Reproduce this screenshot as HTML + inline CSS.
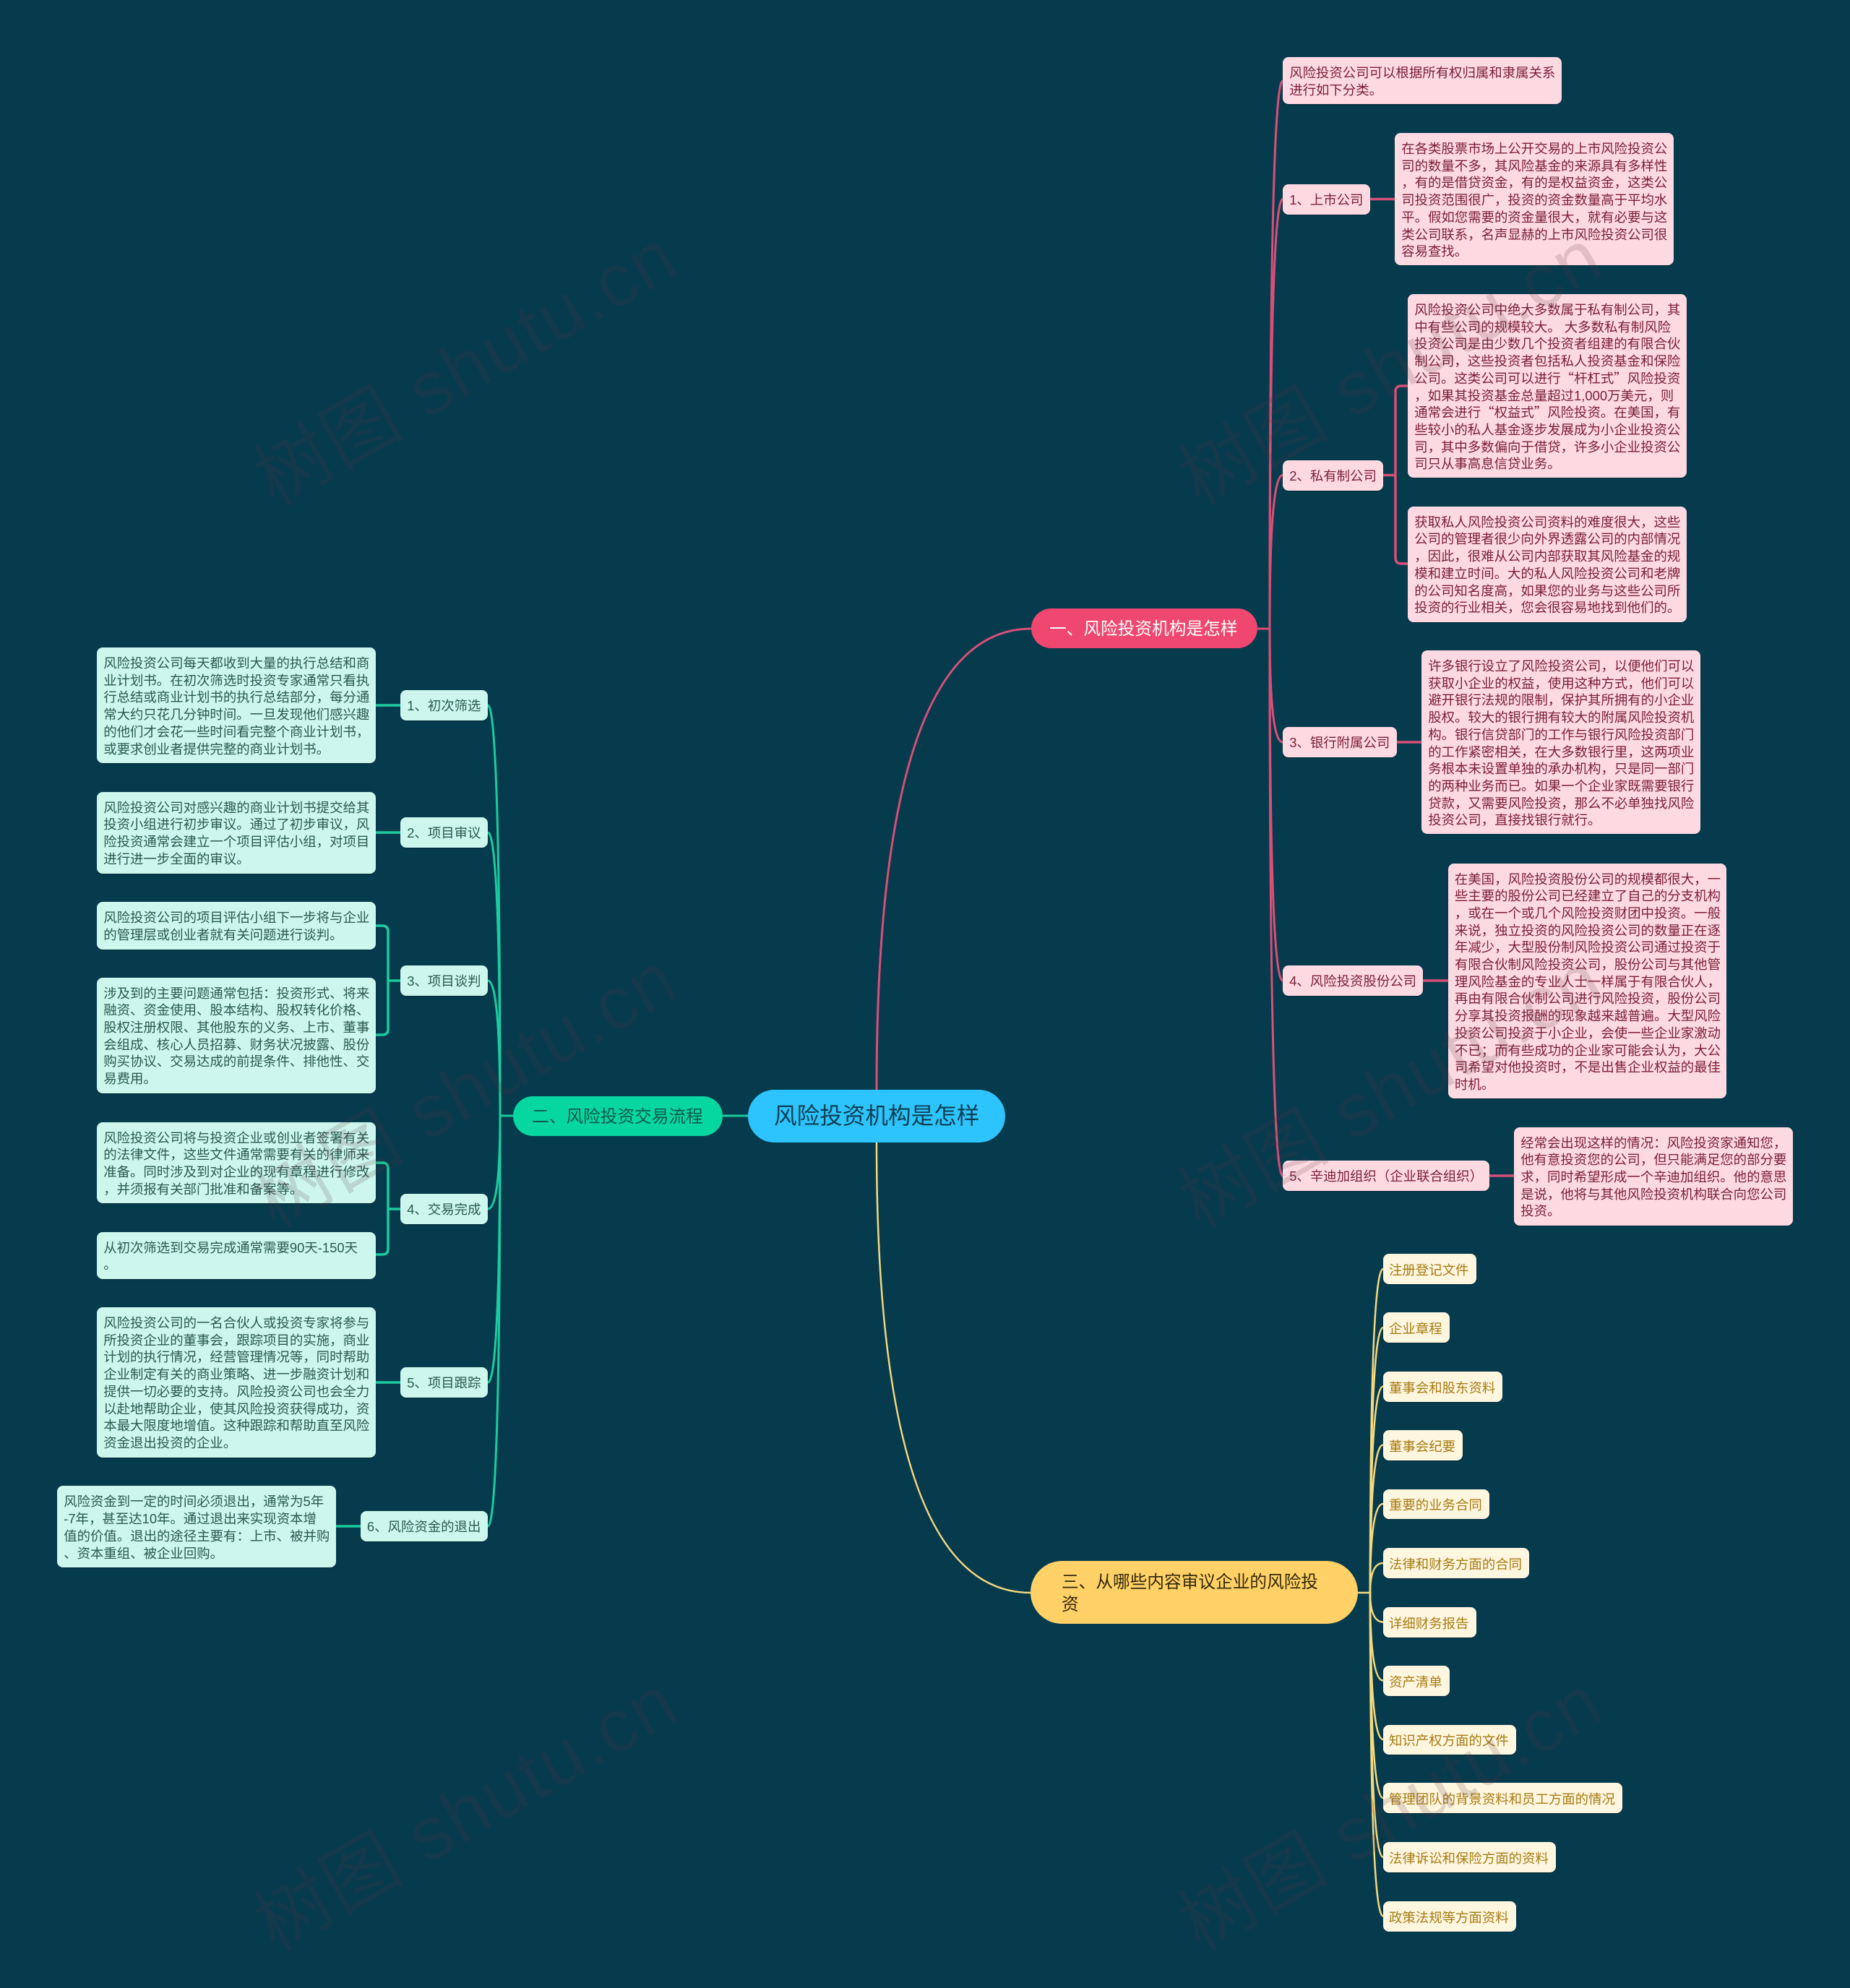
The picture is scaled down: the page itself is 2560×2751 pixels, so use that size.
<!DOCTYPE html>
<html lang="zh-CN"><head><meta charset="utf-8"><title>风险投资机构是怎样</title>
<style>
html,body{margin:0;padding:0;background:#063a4d;}
body{position:relative;width:2560px;height:2751px;overflow:hidden;font-family:"Liberation Sans","Noto Sans CJK SC",sans-serif;}
svg{position:absolute;left:0;top:0;}
.n{position:absolute;box-sizing:border-box;white-space:nowrap;font-size:18.42px;line-height:23.7px;border-radius:8px;box-shadow:0 1px 1px rgba(0,0,0,.3);}
.p{background:#fddae2;color:#7a1d3a;padding:10px 0 0 9.2px;}
.g{background:#cdf7ec;color:#2a5a50;padding:10px 0 0 9.2px;}
.y{background:#fff6e0;color:#a67c12;padding:10.5px 0 0 8px;height:41.5px;top:0;left:1914px;}
.m{position:absolute;box-sizing:border-box;white-space:nowrap;}
.ql,.qr{display:inline-block;width:1em;font-family:"Noto Sans CJK SC",sans-serif;}
.ql{text-align:right;}.qr{text-align:left;}
</style></head><body>
<svg width="2560" height="2751" viewBox="0 0 2560 2751" fill="none" stroke-linecap="round">
<g stroke="#d94f78" stroke-width="3">
<path d="M1213,1508 Q1213,870 1427,870"/>
<path d="M1740,870 H1757"/>
<path d="M1757,870 Q1757,112 1775,112"/>
<path d="M1757,870 Q1757,275.500 1775,275.500"/>
<path d="M1757,870 Q1757,657.500 1775,657.500"/>
<path d="M1757,870 Q1757,1027 1775,1027"/>
<path d="M1757,870 Q1757,1357 1775,1357"/>
<path d="M1757,870 Q1757,1627 1775,1627"/>
<path d="M1896,275.500 H1930" stroke-width="3.500"/>
<path d="M1914,657.500 H1931 M1948,534 H1939 Q1931,534 1931,542 V772 Q1931,780 1939,780 H1948" stroke-width="3.500"/>
<path d="M1933,1027 H1967" stroke-width="3.500"/>
<path d="M1969,1357 H2004" stroke-width="3.500"/>
<path d="M2061,1627 H2095" stroke-width="3.500"/>
</g>
<g stroke="#1ccb9f" stroke-width="3">
<path d="M1035,1544 H1000"/>
<path d="M709.500,1544 H692"/>
<path d="M692,1544 Q692,976 675,976"/>
<path d="M692,1544 Q692,1152 675,1152"/>
<path d="M692,1544 Q692,1357 675,1357"/>
<path d="M692,1544 Q692,1673 675,1673"/>
<path d="M692,1544 Q692,1913 675,1913"/>
<path d="M692,1544 Q692,2112 675,2112"/>
<path d="M520,976 H554" stroke-width="3.500"/>
<path d="M520,1152 H554" stroke-width="3.500"/>
<path d="M554,1357 H537 M520,1281 H529 Q537,1281 537,1289 V1424 Q537,1432 529,1432 H520" stroke-width="3.500"/>
<path d="M554,1673 H537 M520,1609 H529 Q537,1609 537,1617 V1728 Q537,1736 529,1736 H520" stroke-width="3.500"/>
<path d="M520,1913 H554" stroke-width="3.500"/>
<path d="M464.500,2112 H499" stroke-width="3.500"/>
</g>
<g stroke="#f5d97f" stroke-width="2.500">
<path d="M1213,1581 Q1213,2204 1426,2204"/>
<path d="M1879,2204 H1896"/>
<path d="M1896,2204 Q1896,1756 1914,1756"/>
<path d="M1896,2204 Q1896,1837 1914,1837"/>
<path d="M1896,2204 Q1896,1918.500 1914,1918.500"/>
<path d="M1896,2204 Q1896,1999.500 1914,1999.500"/>
<path d="M1896,2204 Q1896,2081 1914,2081"/>
<path d="M1896,2204 Q1896,2163 1914,2163"/>
<path d="M1896,2204 Q1896,2244.500 1914,2244.500"/>
<path d="M1896,2204 Q1896,2325.500 1914,2325.500"/>
<path d="M1896,2204 Q1896,2407 1914,2407"/>
<path d="M1896,2204 Q1896,2488 1914,2488"/>
<path d="M1896,2204 Q1896,2570 1914,2570"/>
<path d="M1896,2204 Q1896,2651.500 1914,2651.500"/>
</g>
</svg>

<div class="m" style="left:1035px;top:1508px;width:356px;height:73px;border-radius:36.5px;background:#2dc4fd;color:#0c3e52;font-size:31.6px;line-height:73px;padding-left:36px;">风险投资机构是怎样</div>
<div class="m" style="left:1427px;top:842px;width:313px;height:55px;border-radius:27.5px;background:#ef476f;color:#fff;font-size:23.68px;line-height:55px;padding:1.5px 0 0 25px;">一、风险投资机构是怎样</div>
<div class="m" style="left:709.500px;top:1517px;width:290.500px;height:55px;border-radius:27.5px;background:#06d6a0;color:#0c5a4a;font-size:23.68px;line-height:55px;padding:1.5px 0 0 26.5px;">二、风险投资交易流程</div>
<div class="m" style="left:1426px;top:2160px;width:453px;height:87px;border-radius:43.5px;background:#ffd166;color:#33290d;font-size:23.68px;line-height:31.6px;padding:14.5px 0 0 43px;">三、从哪些内容审议企业的风险投<br>资</div>

<div class="n p" style="left:1775px;top:79px;width:386px;height:65px;">风险投资公司可以根据所有权归属和隶属关系<br>进行如下分类。</div>
<div class="n p" style="left:1775px;top:254.500px;width:121px;height:42px;">1、上市公司</div>
<div class="n p" style="left:1930px;top:184px;width:386px;height:183px;">在各类股票市场上公开交易的上市风险投资公<br>司的数量不多，其风险基金的来源具有多样性<br>，有的是借贷资金，有的是权益资金，这类公<br>司投资范围很广，投资的资金数量高于平均水<br>平。假如您需要的资金量很大，就有必要与这<br>类公司联系，名声显赫的上市风险投资公司很<br>容易查找。</div>
<div class="n p" style="left:1775px;top:636.500px;width:139px;height:42px;">2、私有制公司</div>
<div class="n p" style="left:1948px;top:407px;width:386px;height:254px;">风险投资公司中绝大多数属于私有制公司，其<br>中有些公司的规模较大。 大多数私有制风险<br>投资公司是由少数几个投资者组建的有限合伙<br>制公司，这些投资者包括私人投资基金和保险<br>公司。这类公司可以进行<span class="ql">“</span>杆杠式<span class="qr">”</span>风险投资<br>，如果其投资基金总量超过1,000万美元，则<br>通常会进行<span class="ql">“</span>权益式<span class="qr">”</span>风险投资。在美国，有<br>些较小的私人基金逐步发展成为小企业投资公<br>司，其中多数偏向于借贷，许多小企业投资公<br>司只从事高息信贷业务。</div>
<div class="n p" style="left:1948px;top:700.700px;width:386px;height:160.300px;">获取私人风险投资公司资料的难度很大，这些<br>公司的管理者很少向外界透露公司的内部情况<br>，因此，很难从公司内部获取其风险基金的规<br>模和建立时间。大的私人风险投资公司和老牌<br>的公司知名度高，如果您的业务与这些公司所<br>投资的行业相关，您会很容易地找到他们的。</div>
<div class="n p" style="left:1775px;top:1006px;width:158px;height:42px;">3、银行附属公司</div>
<div class="n p" style="left:1967px;top:900px;width:386px;height:254px;">许多银行设立了风险投资公司，以便他们可以<br>获取小企业的权益，使用这种方式，他们可以<br>避开银行法规的限制，保护其所拥有的小企业<br>股权。较大的银行拥有较大的附属风险投资机<br>构。银行信贷部门的工作与银行风险投资部门<br>的工作紧密相关，在大多数银行里，这两项业<br>务根本未设置单独的承办机构，只是同一部门<br>的两种业务而已。如果一个企业家既需要银行<br>贷款，又需要风险投资，那么不必单独找风险<br>投资公司，直接找银行就行。</div>
<div class="n p" style="left:1775px;top:1336px;width:194px;height:42px;">4、风险投资股份公司</div>
<div class="n p" style="left:2003.700px;top:1194.500px;width:385.500px;height:325px;">在美国，风险投资股份公司的规模都很大，一<br>些主要的股份公司已经建立了自己的分支机构<br>，或在一个或几个风险投资财团中投资。一般<br>来说，独立投资的风险投资公司的数量正在逐<br>年减少，大型股份制风险投资公司通过投资于<br>有限合伙制风险投资公司，股份公司与其他管<br>理风险基金的专业人士一样属于有限合伙人，<br>再由有限合伙制公司进行风险投资，股份公司<br>分享其投资报酬的现象越来越普遍。大型风险<br>投资公司投资于小企业，会使一些企业家激动<br>不已；而有些成功的企业家可能会认为，大公<br>司希望对他投资时，不是出售企业权益的最佳<br>时机。</div>
<div class="n p" style="left:1775px;top:1606px;width:286px;height:42px;">5、辛迪加组织（企业联合组织）</div>
<div class="n p" style="left:2095px;top:1559.500px;width:386px;height:136px;">经常会出现这样的情况：风险投资家通知您，<br>他有意投资您的公司，但只能满足您的部分要<br>求，同时希望形成一个辛迪加组织。他的意思<br>是说，他将与其他风险投资机构联合向您公司<br>投资。</div>

<div class="n g" style="left:134px;top:896px;width:386px;height:160px;">风险投资公司每天都收到大量的执行总结和商<br>业计划书。在初次筛选时投资专家通常只看执<br>行总结或商业计划书的执行总结部分，每分通<br>常大约只花几分钟时间。一旦发现他们感兴趣<br>的他们才会花一些时间看完整个商业计划书，<br>或要求创业者提供完整的商业计划书。</div>
<div class="n g" style="left:554px;top:955px;width:121px;height:42px;">1、初次筛选</div>
<div class="n g" style="left:134px;top:1095.500px;width:386px;height:113px;">风险投资公司对感兴趣的商业计划书提交给其<br>投资小组进行初步审议。通过了初步审议，风<br>险投资通常会建立一个项目评估小组，对项目<br>进行进一步全面的审议。</div>
<div class="n g" style="left:554px;top:1131px;width:121px;height:42px;">2、项目审议</div>
<div class="n g" style="left:134px;top:1248px;width:386px;height:65.500px;">风险投资公司的项目评估小组下一步将与企业<br>的管理层或创业者就有关问题进行谈判。</div>
<div class="n g" style="left:134px;top:1352.600px;width:386px;height:160px;">涉及到的主要问题通常包括：投资形式、将来<br>融资、资金使用、股本结构、股权转化价格、<br>股权注册权限、其他股东的义务、上市、董事<br>会组成、核心人员招募、财务状况披露、股份<br>购买协议、交易达成的前提条件、排他性、交<br>易费用。</div>
<div class="n g" style="left:554px;top:1336px;width:121px;height:42px;">3、项目谈判</div>
<div class="n g" style="left:134px;top:1552.500px;width:386px;height:112.500px;">风险投资公司将与投资企业或创业者签署有关<br>的法律文件，这些文件通常需要有关的律师来<br>准备。同时涉及到对企业的现有章程进行修改<br>，并须报有关部门批准和备案等。</div>
<div class="n g" style="left:134px;top:1704.700px;width:386px;height:65.300px;">从初次筛选到交易完成通常需要90天-150天<br>。</div>
<div class="n g" style="left:554px;top:1652px;width:121px;height:42px;">4、交易完成</div>
<div class="n g" style="left:134px;top:1809px;width:386px;height:207.500px;">风险投资公司的一名合伙人或投资专家将参与<br>所投资企业的董事会，跟踪项目的实施，商业<br>计划的执行情况，经营管理情况等，同时帮助<br>企业制定有关的商业策略、进一步融资计划和<br>提供一切必要的支持。风险投资公司也会全力<br>以赴地帮助企业，使其风险投资获得成功，资<br>本最大限度地增值。这种跟踪和帮助直至风险<br>资金退出投资的企业。</div>
<div class="n g" style="left:554px;top:1892px;width:121px;height:42px;">5、项目跟踪</div>
<div class="n g" style="left:79px;top:2056.400px;width:386px;height:112.600px;">风险资金到一定的时间必须退出，通常为5年<br>-7年，甚至达10年。通过退出来实现资本增<br>值的价值。退出的途径主要有：上市、被并购<br>、资本重组、被企业回购。</div>
<div class="n g" style="left:498.700px;top:2091px;width:176.300px;height:42px;">6、风险资金的退出</div>

<div class="n y" style="top:1735px;width:128.500px;">注册登记文件</div>
<div class="n y" style="top:1816px;width:91.700px;">企业章程</div>
<div class="n y" style="top:1898px;width:165.300px;">董事会和股东资料</div>
<div class="n y" style="top:1979px;width:110.100px;">董事会纪要</div>
<div class="n y" style="top:2060.500px;width:146.900px;">重要的业务合同</div>
<div class="n y" style="top:2142px;width:202.200px;">法律和财务方面的合同</div>
<div class="n y" style="top:2224px;width:128.500px;">详细财务报告</div>
<div class="n y" style="top:2305px;width:91.700px;">资产清单</div>
<div class="n y" style="top:2386.500px;width:183.800px;">知识产权方面的文件</div>
<div class="n y" style="top:2467px;width:330.500px;">管理团队的背景资料和员工方面的情况</div>
<div class="n y" style="top:2549px;width:238.700px;">法律诉讼和保险方面的资料</div>
<div class="n y" style="top:2631px;width:183.800px;">政策法规等方面资料</div>

<svg width="2560" height="2751" viewBox="0 0 2560 2751" style="pointer-events:none">
<g font-family="'Liberation Sans','Noto Sans CJK SC',sans-serif" font-size="104" letter-spacing="2" fill="#5a373c" fill-opacity=".17">
<text transform="translate(380,702) rotate(-30)">树图 shutu.cn</text>
<text transform="translate(1660,702) rotate(-30)">树图 shutu.cn</text>
<text transform="translate(380,1702) rotate(-30)">树图 shutu.cn</text>
<text transform="translate(1660,1702) rotate(-30)">树图 shutu.cn</text>
<text transform="translate(380,2702) rotate(-30)">树图 shutu.cn</text>
<text transform="translate(1660,2702) rotate(-30)">树图 shutu.cn</text>
</g>
</svg>
</body></html>
